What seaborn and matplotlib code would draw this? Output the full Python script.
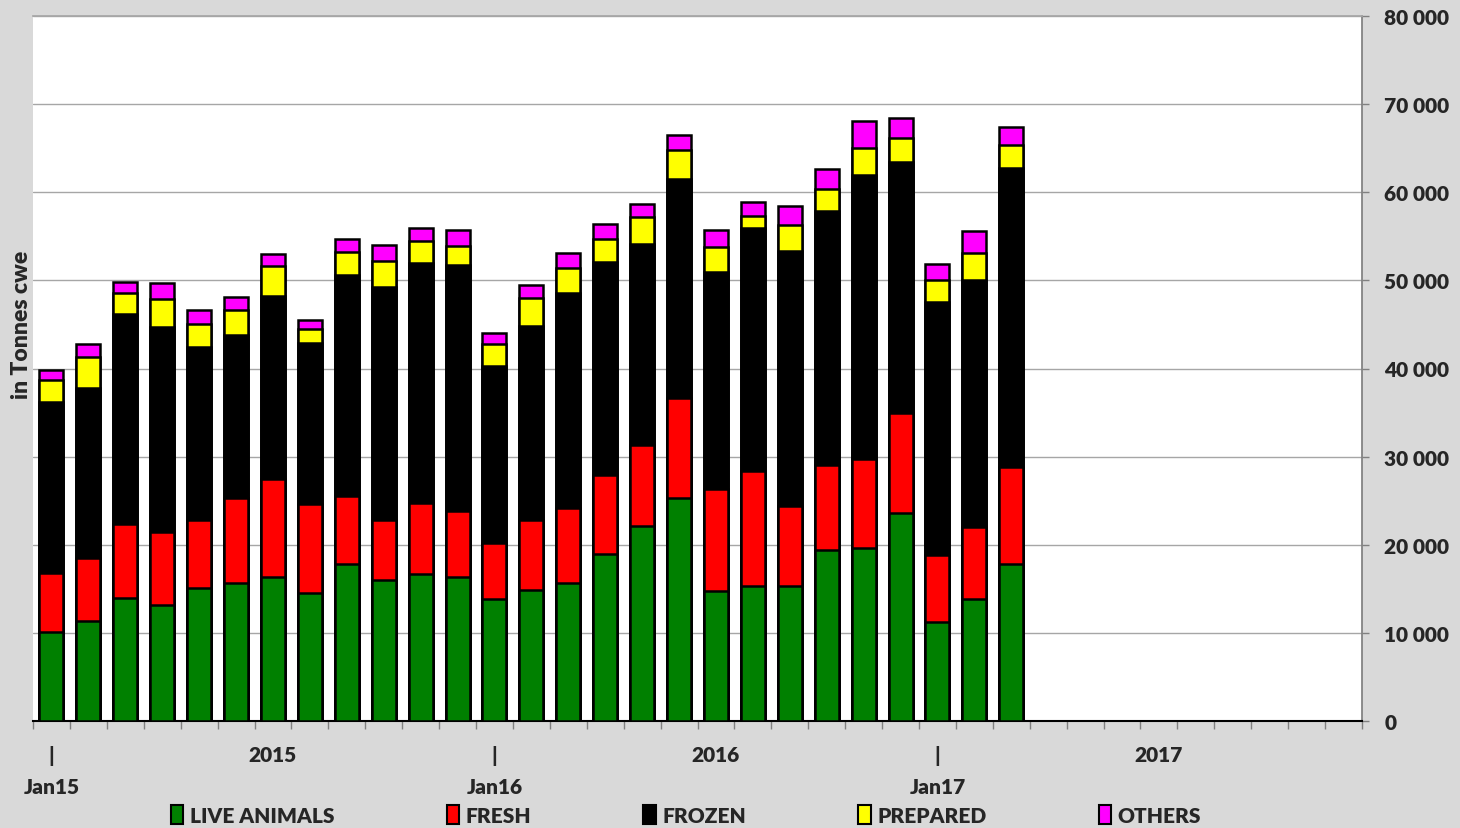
import numpy as np
import pandas as pd
import seaborn as sns
import matplotlib.pyplot as plt
from matplotlib.patches import Patch
from matplotlib.ticker import FuncFormatter

# months on the x axis (Jan15 .. Dec17), data only up to Mar17
month_names = ["Jan", "Feb", "Mar", "Apr", "May", "Jun",
               "Jul", "Aug", "Sep", "Oct", "Nov", "Dec"]
years = ["15", "16", "17"]
months = [m + y for y in years for m in month_names]

# values in tonnes cwe
live_animals = [10140, 11350, 13920, 13160, 15130, 15660, 16380, 14490, 17780,
                16000, 16640, 16380, 13860, 14910, 15680, 19000, 22180, 25360,
                14770, 15360, 15360, 19450, 19640, 23550, 11270, 13860, 17860]
fresh = [6690, 7110, 8390, 8250, 7680, 9680, 11080, 10090, 7790,
         6810, 8060, 7450, 6370, 7910, 8500, 8950, 9180, 11320,
         11590, 13050, 9090, 9550, 10040, 11450, 7590, 8190, 10910]
frozen = [19330, 19290, 23870, 23260, 19630, 18460, 20760, 18350, 25040,
          26400, 27270, 27910, 20090, 21950, 24410, 24140, 22730, 24820,
          24550, 27500, 28870, 28860, 32230, 28410, 28640, 27950, 33960]
prepared = [2530, 3510, 2420, 3170, 2570, 2870, 3440, 1510, 2570,
            3020, 2460, 2160, 2410, 3180, 2860, 2550, 3050, 3270,
            2910, 1450, 2910, 2500, 3090, 2730, 2590, 3050, 2630]
others = [1140, 1520, 1250, 1900, 1590, 1440, 1370, 1060, 1520,
          1770, 1550, 1820, 1270, 1500, 1690, 1720, 1500, 1680,
          1950, 1500, 2180, 2280, 3050, 2270, 1730, 2500, 2050]

series_names = ["LIVE ANIMALS", "FRESH", "FROZEN", "PREPARED", "OTHERS"]
colors = ["#008000", "#ff0000", "#000000", "#ffff00", "#ff00ff"]

tick_pos = [0, 6, 12, 18, 24, 30]
tick_labels = ["|\nJan15", "2015", "|\nJan16", "2016", "|\nJan17", "2017"]

df = pd.DataFrame({
    "LIVE ANIMALS": live_animals,
    "FRESH": fresh,
    "FROZEN": frozen,
    "PREPARED": prepared,
    "OTHERS": others,
})
cum = df[series_names].cumsum(axis=1)
cum["month"] = months[:len(df)]

sns.set_theme(style="white")
plt.rcParams["font.family"] = ["Lato", "DejaVu Sans"]
plt.rcParams["font.weight"] = "heavy"

fig = plt.figure(figsize=(14.6, 8.29), dpi=100, facecolor="#d9d9d9")
ax = fig.add_axes([33 / 1460, 1 - 722 / 829, 1329 / 1460, 705 / 829])
ax.set_facecolor("white")

# draw cumulative totals from the top series down so each layer covers the next
for name, col in reversed(list(zip(series_names, colors))):
    sns.barplot(data=cum, x="month", y=name, order=months, color=col,
                saturation=1, edgecolor="black", linewidth=1.8, width=0.65,
                errorbar=None, ax=ax, zorder=3)

ax.set_xlim(-0.5, 35.5)
ax.set_ylim(0, 80000)
ax.set_xlabel("")
ax.set_ylabel("")

ax.yaxis.tick_right()
ax.set_yticks(np.arange(0, 80001, 10000))
ax.yaxis.set_major_formatter(FuncFormatter(lambda v, p: f"{int(v):,}".replace(",", " ")))
ax.tick_params(axis="y", right=True, length=5, width=1, color="#808080",
               pad=11, labelsize=15)
ax.yaxis.grid(True, color="#a6a6a6", lw=1)
ax.set_axisbelow(True)

ax.set_xticks(tick_pos)
ax.set_xticklabels(tick_labels)
ax.set_xticks(np.arange(-0.5, 36, 1), minor=True)
ax.tick_params(axis="x", which="major", length=0, pad=17, labelsize=15)
ax.tick_params(axis="x", which="minor", bottom=True, length=6, width=1,
               color="#808080")
for lab in ax.get_xticklabels():
    lab.set_multialignment("center")
    lab.set_linespacing(1.75)

ax.spines["left"].set_visible(False)
ax.spines["top"].set_color("#a6a6a6")
ax.spines["right"].set_color("#808080")
ax.spines["bottom"].set_color("black")
ax.spines["bottom"].set_linewidth(1.5)

fig.text(22 / 1460, 1 - 325 / 829, "in Tonnes cwe", rotation=90,
         ha="center", va="center", fontsize=16.5, fontweight="heavy")

handles = [Patch(facecolor=c, edgecolor="black", lw=1.5) for c in colors]
fig.legend(handles, series_names, ncol=5, loc="center",
           bbox_to_anchor=(686 / 1460, 1 - 816 / 829), frameon=False,
           handlelength=0.6, handleheight=1.0, handletextpad=0.3,
           columnspacing=5.4, prop={"size": 15, "weight": "heavy"})

fig.savefig("out.png", dpi=100, facecolor=fig.get_facecolor())
